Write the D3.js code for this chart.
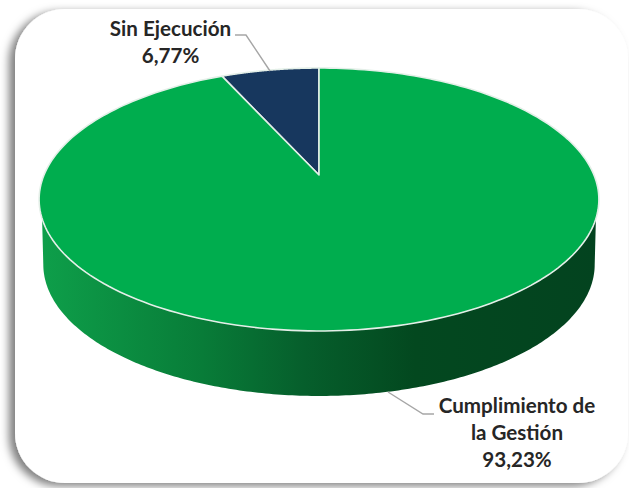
<!DOCTYPE html>
<html lang="es">
<head>
    <meta charset="UTF-8">
    <title>Cumplimiento de la Gestión</title>
    <script src="https://d3js.org/d3.v7.min.js"></script>
    <style>
        html, body { margin: 0; padding: 0; background: #fff; }
        svg { display: block; }
        text { font-family: Lato, "Open Sans", sans-serif; font-weight: 700; font-size: 20.6px; fill: #262626; text-anchor: middle; }
    </style>
</head>
<body>
    <svg id="chart" width="629" height="488"></svg>
    <script>
        const categories = ["Sin Ejecución", "Cumplimiento de la Gestión"];
        const shares = [6.77, 93.23];
        const shareLabels = ["6,77%", "93,23%"];
        const sliceColors = ["#17375e", "#00ad4e"];

        const svg = d3.select("#chart");
        const defs = svg.append("defs");

        // card shadow, falls to the left and slightly down
        const shadow = defs.append("filter").attr("id", "card-shadow")
            .attr("x", "-10%").attr("y", "-10%").attr("width", "120%").attr("height", "120%");
        shadow.append("feDropShadow").attr("dx", -6).attr("dy", 3).attr("stdDeviation", 4)
            .attr("flood-color", "#000").attr("flood-opacity", 0.5);

        svg.append("rect")
            .attr("x", 15).attr("y", 9).attr("width", 613).attr("height", 474)
            .attr("rx", 50).attr("ry", 50)
            .attr("fill", "#fff").attr("filter", "url(#card-shadow)");

        // side wall shading, left to right
        const sideGrad = defs.append("linearGradient").attr("id", "side-grad")
            .attr("gradientUnits", "userSpaceOnUse")
            .attr("x1", 40).attr("y1", 0).attr("x2", 599).attr("y2", 0);
        [
            {offset: "0%", color: "#0e9f4a"},
            {offset: "29%", color: "#087c38"},
            {offset: "47%", color: "#065f2c"},
            {offset: "67%", color: "#03481f"},
            {offset: "100%", color: "#03431f"}
        ].forEach(d => sideGrad.append("stop").attr("offset", d.offset).attr("stop-color", d.color));

        // perspective projection of the pie disc: angle 0 is the far side, clockwise
        const cx = 319, apexY = 175;
        const persp = 0.1863, scaleX = 275, scaleY = 126.9;
        function project(a, r = 1) {
            const u = r * Math.sin(a), v = r * Math.cos(a);
            const d = 1 + persp * v;
            return [cx + scaleX * u / d, apexY - scaleY * v / d];
        }

        const arcs = d3.pie().sort(null).startAngle(-shares[0] / 100 * 2 * Math.PI)
            .endAngle(2 * Math.PI - shares[0] / 100 * 2 * Math.PI)(shares);

        const line = d3.line();
        const depth = 65;

        function rimPoints(a0, a1) {
            return d3.range(0, 241).map(i => project(a0 + (a1 - a0) * i / 240));
        }

        // wall: top edge starts a bit below the widest point, bottom edge is the rim pushed down
        const widest = Math.PI - Math.acos(persp);
        const wallTop = rimPoints(1.9, 2 * Math.PI - 1.9);
        const wallBottom = rimPoints(widest, 2 * Math.PI - widest).reverse()
            .map(p => [cx + (p[0] - cx) * 0.985, p[1] + depth]);
        svg.append("path")
            .attr("d", line(wallTop.concat(wallBottom)) + "Z")
            .attr("fill", "url(#side-grad)");

        // top faces
        svg.append("g").selectAll("path").data(arcs).join("path")
            .attr("d", d => line([project(0, 0)].concat(rimPoints(d.startAngle, d.endAngle))) + "Z")
            .attr("fill", (d, i) => sliceColors[i])
            .attr("stroke", "#e4efe8")
            .attr("stroke-width", 1.6)
            .attr("stroke-linejoin", "round");

        // leader lines
        const leaders = [
            [[270, 71], [246, 35], [235, 35]],
            [[388, 392], [423, 414], [434, 414]]
        ];
        svg.append("g").selectAll("path").data(leaders).join("path")
            .attr("d", d => line(d))
            .attr("fill", "none").attr("stroke", "#a6a6a6").attr("stroke-width", 1.4);

        // labels
        const labelLines = [
            [categories[0], shareLabels[0]],
            ["Cumplimiento de", "la Gestión", shareLabels[1]]
        ];
        const labelPos = [{x: 170.5, y: 36}, {x: 517, y: 413}];
        const labels = svg.append("g").selectAll("text").data(labelLines).join("text")
            .attr("transform", (d, i) => `translate(${labelPos[i].x},${labelPos[i].y})`);
        labels.selectAll("tspan").data(d => d).join("tspan")
            .attr("x", 0).attr("y", (d, i) => i * 27)
            .text(d => d);
    </script>
</body>
</html>
